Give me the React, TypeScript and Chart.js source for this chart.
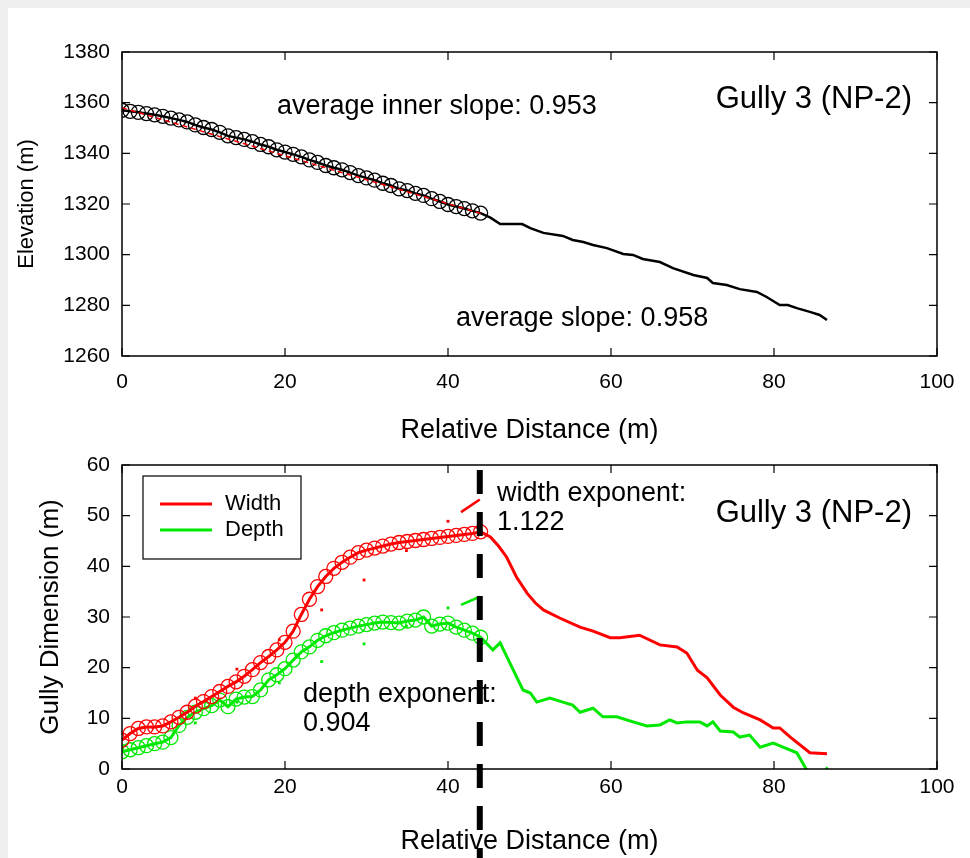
import React, { useEffect, useRef } from "react";
import { Chart, registerables } from "chart.js";
Chart.register(...registerables);

const FONT = '"Liberation Sans", Arial, Helvetica, sans-serif';

// ---------- Top panel: elevation profile ----------
const innerDist = [0, 1, 2, 3, 4, 5, 6, 7, 8, 9, 10, 11, 12, 13, 14, 15, 16, 17, 18, 19, 20, 21, 22, 23, 24, 25, 26, 27, 28, 29, 30, 31, 32, 33, 34, 35, 36, 37, 38, 39, 40, 41, 42, 43, 44];
const innerElev = [1357.0, 1356.6, 1356.2, 1355.7, 1355.2, 1354.6, 1353.9, 1353.2, 1352.4, 1351.2, 1350.2, 1349.4, 1348.3, 1346.9, 1346.2, 1345.5, 1344.6, 1343.5, 1342.6, 1341.4, 1340.5, 1339.6, 1338.6, 1337.4, 1336.4, 1335.2, 1334.3, 1333.5, 1332.4, 1331.2, 1330.3, 1329.4, 1328.2, 1327.3, 1326.0, 1325.3, 1324.2, 1323.4, 1322.1, 1321.0, 1319.8, 1319.0, 1318.2, 1317.3, 1316.4];
const outerDist = [45.2, 46.4, 49.1, 50.1, 51.7, 54.1, 55.3, 56.6, 57.8, 59.5, 61.5, 62.7, 63.9, 66.0, 67.6, 70.1, 71.8, 72.5, 74.2, 75.8, 77.9, 79.1, 80.7, 81.7, 82.8, 84.4, 85.6, 86.5];
const outerElev = [1314.6, 1312.1, 1312.1, 1310.5, 1308.6, 1307.4, 1305.8, 1305.0, 1303.8, 1302.6, 1300.3, 1299.9, 1298.3, 1297.1, 1294.7, 1292.0, 1290.8, 1288.8, 1288.0, 1286.4, 1285.3, 1283.3, 1280.1, 1280.1, 1278.9, 1277.4, 1276.2, 1274.2];
const slopeFitDist = [0, 44];
const slopeFitElev = [1358.0, 1316.3];
const elevTicks = [1260, 1280, 1300, 1320, 1340, 1360, 1380];

// ---------- Bottom panel: gully dimensions ----------
const sectionDist = [0, 1, 2, 3, 4, 5, 6, 7, 8, 9, 10, 11, 12, 13, 14, 15, 16, 17, 18, 19, 20, 21, 22, 23, 24, 25, 26, 27, 28, 29, 30, 31, 32, 33, 34, 35, 36, 37, 38, 39, 40, 41, 42, 43, 44];
const widthInner = [5.7, 7.0, 8.0, 8.3, 8.3, 8.5, 9.3, 10.2, 11.2, 12.4, 13.3, 14.3, 15.3, 16.3, 17.2, 18.3, 19.6, 21.0, 22.2, 23.5, 25.0, 27.2, 30.5, 33.5, 36.0, 38.0, 39.6, 40.8, 41.8, 42.7, 43.2, 43.6, 44.0, 44.4, 44.7, 44.9, 45.1, 45.3, 45.5, 45.7, 45.9, 46.1, 46.3, 46.5, 46.8];
const depthInner = [3.4, 3.8, 4.2, 4.6, 5.0, 5.3, 6.2, 8.6, 10.2, 11.2, 11.9, 12.5, 13.6, 12.3, 13.8, 14.2, 14.3, 15.6, 17.6, 18.6, 19.8, 21.5, 23.1, 24.1, 25.4, 26.3, 26.9, 27.4, 27.8, 28.2, 28.5, 28.8, 29.0, 28.9, 28.8, 29.2, 29.4, 30.0, 28.2, 28.6, 28.8, 28.0, 27.4, 26.8, 26.0];
const widthOuterDist = [45.2, 46.2, 47.2, 48.4, 49.7, 50.7, 51.7, 53.7, 56.2, 57.8, 59.9, 61.1, 63.5, 66.0, 68.1, 69.3, 70.6, 71.8, 73.4, 75.0, 76.2, 78.3, 79.9, 80.7, 82.0, 84.4, 86.5];
const widthOuter = [45.8, 44.0, 41.8, 37.9, 34.7, 32.8, 31.4, 29.8, 28.0, 27.2, 25.9, 25.9, 26.4, 24.5, 24.1, 22.9, 19.5, 18.0, 14.6, 12.2, 11.1, 9.7, 8.1, 8.1, 6.3, 3.2, 3.0];
const depthOuterDist = [45.5, 46.4, 47.6, 49.2, 50.1, 50.9, 52.5, 54.1, 55.3, 56.2, 57.8, 59.0, 60.7, 62.7, 64.4, 66.0, 67.2, 68.1, 69.3, 70.9, 71.8, 72.5, 73.4, 75.0, 75.8, 77.0, 78.3, 79.9, 81.1, 82.8, 84.3, 85.9, 86.6];
const depthOuter = [23.5, 24.9, 20.9, 15.6, 15.0, 13.2, 14.0, 13.2, 12.6, 11.2, 12.0, 10.3, 10.3, 9.3, 8.5, 8.7, 9.7, 9.1, 9.3, 9.3, 8.5, 9.3, 7.5, 7.3, 6.3, 6.7, 4.3, 5.1, 4.3, 3.2, -1.0, -1.0, 0.3];
const fitDotDist = [3.8, 9.0, 14.1, 19.3, 24.5, 29.7, 34.9, 40.0];
const widthFitDots = [8.2, 14.0, 19.7, 25.5, 31.4, 37.3, 43.1, 48.9];
const depthFitDots = [4.7, 9.1, 13.2, 17.0, 21.2, 24.7, 28.2, 31.8];
const fitDashDist = [41.6, 43.9];
const widthFitDash = [50.7, 53.2];
const depthFitDash = [32.4, 34.0];
const dimTicks = [0, 10, 20, 30, 40, 50, 60];
const distTicks = [0, 20, 40, 60, 80, 100];
const dividerDist = 43.9;

const RED = "#ff0000";
const GREEN = "#00e800";

const xy = (xs: number[], ys: number[]) => xs.map((x, i) => ({ x, y: ys[i] }));

const framePlugin = {
  id: "frame",
  afterDraw(chart: any) {
    const { ctx, chartArea: a, scales } = chart;
    const xs = scales.x;
    const ys = scales.y;
    ctx.save();
    ctx.strokeStyle = "#000";
    ctx.lineWidth = 1.5;
    ctx.strokeRect(a.left, a.top, a.right - a.left, a.bottom - a.top);
    ctx.lineWidth = 1.2;
    ctx.beginPath();
    xs.ticks.forEach((t: any) => {
      const px = xs.getPixelForValue(t.value);
      ctx.moveTo(px, a.bottom);
      ctx.lineTo(px, a.bottom - 8);
      ctx.moveTo(px, a.top);
      ctx.lineTo(px, a.top + 8);
    });
    ys.ticks.forEach((t: any) => {
      const py = ys.getPixelForValue(t.value);
      ctx.moveTo(a.left, py);
      ctx.lineTo(a.left + 8, py);
      ctx.moveTo(a.right, py);
      ctx.lineTo(a.right - 8, py);
    });
    ctx.stroke();
    ctx.restore();
  },
};

function drawText(ctx: any, text: string, x: number, y: number, size: number, align: string = "left") {
  ctx.font = `${size}px ${FONT}`;
  ctx.fillStyle = "#000";
  ctx.textAlign = align;
  ctx.textBaseline = "middle";
  ctx.fillText(text, x, y);
}

const topTextPlugin = {
  id: "topText",
  afterDraw(chart: any) {
    const { ctx, chartArea: a } = chart;
    ctx.save();
    drawText(ctx, "average inner slope: 0.953", a.left + 155, a.top + 55, 27);
    drawText(ctx, "Gully 3 (NP-2)", a.right - 25, a.top + 47, 31, "right");
    drawText(ctx, "average slope: 0.958", a.left + 334, a.top + 267, 27);
    ctx.restore();
  },
};

const bottomTextPlugin = {
  id: "bottomText",
  afterDraw(chart: any) {
    const { ctx, chartArea: a, scales } = chart;
    ctx.save();
    // legend
    const lx = a.left + 21;
    const ly = a.top + 11;
    ctx.fillStyle = "#fff";
    ctx.fillRect(lx, ly, 158, 83);
    ctx.strokeStyle = "#000";
    ctx.lineWidth = 1.2;
    ctx.strokeRect(lx, ly, 158, 83);
    ctx.lineWidth = 3;
    ctx.strokeStyle = RED;
    ctx.beginPath();
    ctx.moveTo(lx + 17, ly + 28);
    ctx.lineTo(lx + 69, ly + 28);
    ctx.stroke();
    ctx.strokeStyle = GREEN;
    ctx.beginPath();
    ctx.moveTo(lx + 17, ly + 54);
    ctx.lineTo(lx + 69, ly + 54);
    ctx.stroke();
    drawText(ctx, "Width", lx + 82, ly + 28, 22);
    drawText(ctx, "Depth", lx + 82, ly + 54, 22);

    drawText(ctx, "width exponent:", a.left + 375, a.top + 29, 27);
    drawText(ctx, "1.122", a.left + 375, a.top + 58, 27);
    drawText(ctx, "Gully 3 (NP-2)", a.right - 25, a.top + 48, 31, "right");
    drawText(ctx, "depth exponent:", a.left + 181, a.top + 230, 27);
    drawText(ctx, "0.904", a.left + 181, a.top + 259, 27);

    // divider
    const px = scales.x.getPixelForValue(dividerDist);
    ctx.strokeStyle = "#000";
    ctx.lineWidth = 6;
    ctx.setLineDash([24, 18]);
    ctx.beginPath();
    ctx.moveTo(px, a.top + 5);
    ctx.lineTo(px, chart.height);
    ctx.stroke();
    ctx.restore();
  },
};

function axisX(labelPad: number, titleBottom: number, height: number) {
  return {
    type: "linear",
    min: 0,
    max: 100,
    afterBuildTicks: (s: any) => {
      s.ticks = distTicks.map((v) => ({ value: v }));
    },
    ticks: { color: "#000", font: { size: 21 }, padding: labelPad, callback: (v: any) => String(v), maxRotation: 0 },
    grid: { display: false, drawTicks: false },
    border: { display: false },
    title: { display: true, text: "Relative Distance (m)", color: "#000", font: { size: 27 }, padding: { top: 0, bottom: titleBottom } },
    afterFit: (s: any) => {
      s.height = height;
      s.paddingLeft = 0;
      s.paddingRight = 0;
    },
  };
}

function axisY(min: number, max: number, tickVals: number[], title: string, titleSize: number, titlePad: number) {
  return {
    type: "linear",
    min,
    max,
    afterBuildTicks: (s: any) => {
      s.ticks = tickVals.map((v) => ({ value: v }));
    },
    ticks: { color: "#000", font: { size: 21 }, padding: 12, callback: (v: any) => String(v) },
    grid: { display: false, drawTicks: false },
    border: { display: false },
    title: { display: true, text: title, color: "#000", font: { size: titleSize }, padding: { top: titlePad, bottom: 0 } },
    afterFit: (s: any) => {
      s.width = 114;
      s.paddingTop = 0;
      s.paddingBottom = 0;
    },
  };
}

export default function App() {
  const topRef = useRef<HTMLCanvasElement>(null);
  const botRef = useRef<HTMLCanvasElement>(null);

  useEffect(() => {
    document.documentElement.style.overflow = "hidden";
    document.documentElement.style.background = "#f0f0f0";
    document.body.style.background = "#f0f0f0";
    Chart.defaults.font.family = FONT;
    Chart.defaults.color = "#000";

    const topChart = new Chart(topRef.current as HTMLCanvasElement, {
      type: "line",
      data: {
        datasets: [
          {
            data: xy(slopeFitDist, slopeFitElev),
            borderColor: RED,
            borderWidth: 1.5,
            borderDash: [5, 4],
            pointRadius: 0,
          },
          {
            data: xy([...innerDist, ...outerDist], [...innerElev, ...outerElev]),
            borderColor: "#000",
            borderWidth: 2.5,
            pointRadius: [...innerDist.map(() => 7), ...outerDist.map(() => 0)],
            pointBorderColor: "#000",
            pointBackgroundColor: "rgba(0,0,0,0)",
            pointBorderWidth: 1.3,
          },
        ],
      } as any,
      options: {
        animation: false,
        responsive: false,
        events: [],
        plugins: { legend: { display: false }, tooltip: { enabled: false } },
        layout: { autoPadding: false, padding: { left: 0, right: 33, top: 44, bottom: 0 } },
        scales: {
          x: axisX(14, 3, 94),
          y: axisY(1260, 1380, elevTicks, "Elevation (m)", 22, 6),
        } as any,
      },
      plugins: [framePlugin, topTextPlugin],
    });

    const botChart = new Chart(botRef.current as HTMLCanvasElement, {
      type: "line",
      data: {
        datasets: [
          {
            data: xy(fitDashDist, widthFitDash),
            borderColor: RED,
            borderWidth: 2.5,
            pointRadius: 0,
          },
          {
            data: xy(fitDashDist, depthFitDash),
            borderColor: GREEN,
            borderWidth: 2.5,
            pointRadius: 0,
          },
          {
            data: xy(fitDotDist, widthFitDots),
            showLine: false,
            pointStyle: "rect",
            pointRadius: 2,
            pointBorderWidth: 0,
            pointBackgroundColor: RED,
            borderColor: RED,
          },
          {
            data: xy(fitDotDist, depthFitDots),
            showLine: false,
            pointStyle: "rect",
            pointRadius: 2,
            pointBorderWidth: 0,
            pointBackgroundColor: GREEN,
            borderColor: GREEN,
          },
          {
            data: xy([...sectionDist, ...widthOuterDist], [...widthInner, ...widthOuter]),
            borderColor: RED,
            borderWidth: 3,
            pointRadius: [...sectionDist.map(() => 7), ...widthOuterDist.map(() => 0)],
            pointBorderColor: RED,
            pointBackgroundColor: "rgba(0,0,0,0)",
            pointBorderWidth: 1.3,
          },
          {
            data: xy([...sectionDist, ...depthOuterDist], [...depthInner, ...depthOuter]),
            borderColor: GREEN,
            borderWidth: 3,
            pointRadius: [...sectionDist.map(() => 7), ...depthOuterDist.map(() => 0)],
            pointBorderColor: GREEN,
            pointBackgroundColor: "rgba(0,0,0,0)",
            pointBorderWidth: 1.3,
            clip: 0,
          },
        ],
      } as any,
      options: {
        animation: false,
        responsive: false,
        events: [],
        plugins: { legend: { display: false }, tooltip: { enabled: false } },
        layout: { autoPadding: false, padding: { left: 0, right: 33, top: 15, bottom: 0 } },
        scales: {
          x: axisX(6, 0, 89),
          y: axisY(0, 60, dimTicks, "Gully Dimension (m)", 26, 27),
        } as any,
      },
      plugins: [framePlugin, bottomTextPlugin],
    });

    return () => {
      topChart.destroy();
      botChart.destroy();
    };
  }, []);

  return (
    <div style={{ position: "fixed", left: 8, top: 8, width: 962, height: 850, background: "#fff", overflow: "hidden" }}>
      <canvas ref={topRef} width={962} height={442} style={{ position: "absolute", left: 0, top: 0, width: 962, height: 442, display: "block" }} />
      <canvas ref={botRef} width={962} height={408} style={{ position: "absolute", left: 0, top: 442, width: 962, height: 408, display: "block" }} />
    </div>
  );
}
